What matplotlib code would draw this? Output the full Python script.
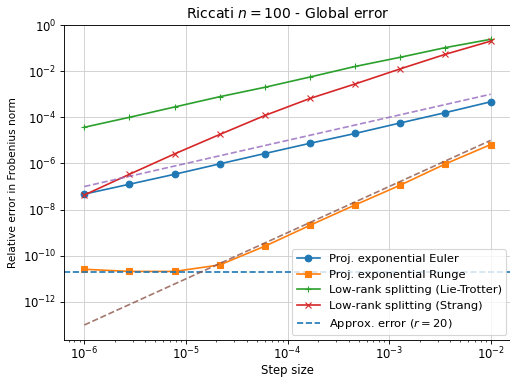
import numpy as np
import matplotlib.pyplot as plt
from matplotlib.ticker import NullFormatter

# step sizes used in the convergence study
step_sizes = [1e-6, 2.78e-6, 7.74e-6, 2.15e-5, 5.99e-5, 1.67e-4, 4.64e-4, 1.29e-3, 3.59e-3, 1e-2]

err_euler = [4.7e-8, 1.26e-7, 3.4e-7, 9.6e-7, 2.7e-6, 7.5e-6, 2.0e-5, 5.7e-5, 1.6e-4, 4.7e-4]
err_runge = [2.6e-11, 2.1e-11, 2.1e-11, 4.0e-11, 2.6e-10, 2.1e-9, 1.6e-8, 1.15e-7, 9.6e-7, 6.6e-6]
err_lie = [3.7e-5, 1.0e-4, 2.8e-4, 7.8e-4, 2.0e-3, 5.6e-3, 1.6e-2, 4.0e-2, 0.105, 0.24]
err_strang = [4.3e-8, 3.4e-7, 2.6e-6, 1.8e-5, 1.2e-4, 6.6e-4, 2.8e-3, 1.26e-2, 5.4e-2, 0.2]

# reference slopes (order 1 and order 2), given at the two ends
ref_h = [1e-6, 1e-2]
ref_order1 = [1e-7, 1e-3]
ref_order2 = [1e-13, 1e-5]

approx_err = 1.9e-11

plt.rcParams['font.size'] = 10.5
plt.rcParams['grid.color'] = '#cfcfcf'

fig = plt.figure(figsize=(510 / 80, 377 / 80), dpi=80)
ax = fig.add_axes([64 / 510, 37 / 377, 447 / 510, 315 / 377])

ax.loglog(step_sizes, err_euler, 'o-', label='Proj. exponential Euler')
ax.loglog(step_sizes, err_runge, 's-', label='Proj. exponential Runge')
ax.loglog(step_sizes, err_lie, '+-', label='Low-rank splitting (Lie-Trotter)')
ax.loglog(step_sizes, err_strang, 'x-', label='Low-rank splitting (Strang)')
ax.axhline(approx_err, color='C0', linestyle='--', label='Approx. error ($r = 20$)')
ax.loglog(ref_h, ref_order1, '--', color='C4', alpha=0.8)
ax.loglog(ref_h, ref_order2, '--', color='C5', alpha=0.8)

ax.set_ylim(10 ** -13.65, 1)
ax.xaxis.set_minor_formatter(NullFormatter())
ax.yaxis.set_minor_formatter(NullFormatter())
ax.tick_params(axis='x', which='both', pad=2)
ax.set_xlabel('Step size', labelpad=1)
ax.set_ylabel('Relative error in Frobenius norm', fontsize=9.5)
ax.set_title('Riccati $n = 100$ - Global error')
ax.grid(True, which='major')
ax.legend(loc='lower right', fontsize=10.3, borderaxespad=0.4)

fig.savefig('out.png', dpi=80)
